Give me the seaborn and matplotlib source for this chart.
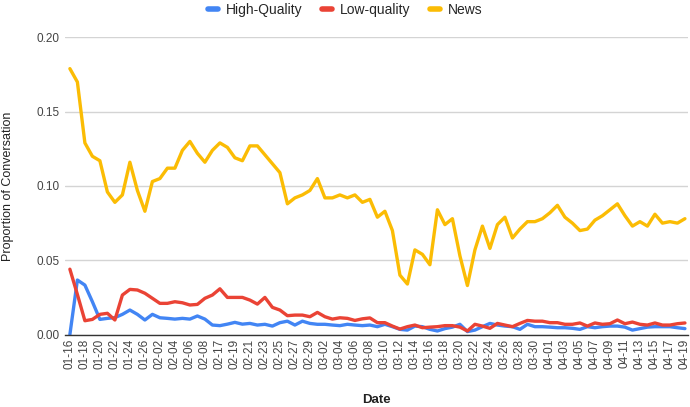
# Proportion of conversation per day: high-quality, low-quality and news sources
import pandas as pd
import matplotlib.pyplot as plt
import seaborn as sns

sns.set_theme(style="white")
plt.rcParams['font.family'] = ['Liberation Sans', 'DejaVu Sans']

# --- data ---
dates = [
    '01-16', '01-17', '01-18', '01-19', '01-20', '01-21', '01-22', '01-23', '01-24', '01-25',
    '01-26', '01-27', '02-02', '02-03', '02-04', '02-05', '02-06', '02-07', '02-08', '02-09',
    '02-17', '02-18', '02-19', '02-20', '02-21', '02-22', '02-23', '02-24', '02-25', '02-26',
    '02-27', '02-28', '02-29', '03-01', '03-02', '03-03', '03-04', '03-05', '03-06', '03-07',
    '03-08', '03-09', '03-10', '03-11', '03-12', '03-13', '03-14', '03-15', '03-16', '03-17',
    '03-18', '03-19', '03-20', '03-21', '03-22', '03-23', '03-24', '03-25', '03-26', '03-27',
    '03-28', '03-29', '03-30', '03-31', '04-01', '04-02', '04-03', '04-04', '04-05', '04-06',
    '04-07', '04-08', '04-09', '04-10', '04-11', '04-12', '04-13', '04-14', '04-15', '04-16',
    '04-17', '04-18', '04-19',
]

high_quality = [
    0.0, 0.0367, 0.0333, 0.0221, 0.0102, 0.0109, 0.0114, 0.0136, 0.0165, 0.0136,
    0.0098, 0.0136, 0.0113, 0.0109, 0.0104, 0.0109, 0.0104, 0.0125, 0.0104, 0.0064,
    0.006, 0.007, 0.0082, 0.007, 0.0075, 0.0064, 0.0069, 0.0057, 0.008, 0.009,
    0.0064, 0.009, 0.0075, 0.0069, 0.0069, 0.0064, 0.006, 0.0069, 0.0064, 0.006,
    0.0064, 0.0053, 0.0069, 0.0053, 0.0035, 0.003, 0.0057, 0.0053, 0.0035, 0.0024,
    0.004, 0.005, 0.0069, 0.002, 0.003, 0.0053, 0.0075, 0.0064, 0.0057, 0.0053,
    0.0035, 0.0069, 0.0053, 0.0053, 0.005, 0.0046, 0.0046, 0.0042, 0.0035, 0.0053,
    0.0046, 0.0053, 0.0057, 0.0057, 0.005, 0.003, 0.004, 0.005, 0.0053, 0.0053,
    0.0053, 0.0046, 0.004,
]

low_quality = [
    0.044, 0.027, 0.0093, 0.0102, 0.0136, 0.0143, 0.0098, 0.0266, 0.0304, 0.030,
    0.0278, 0.0244, 0.021, 0.021, 0.0221, 0.0214, 0.0199, 0.0203, 0.0244, 0.0266,
    0.0308, 0.025, 0.025, 0.025, 0.0232, 0.0205, 0.025, 0.0183, 0.0165, 0.0127,
    0.0131, 0.0131, 0.012, 0.0149, 0.012, 0.0104, 0.0113, 0.0109, 0.0095, 0.0106,
    0.0112, 0.008, 0.008, 0.0057, 0.0037, 0.0053, 0.0064, 0.0046, 0.005, 0.0053,
    0.006, 0.006, 0.005, 0.0024, 0.0069, 0.0057, 0.0042, 0.0075, 0.0064, 0.0053,
    0.0075, 0.0095, 0.009, 0.009, 0.008, 0.008, 0.0069, 0.0069, 0.0078, 0.0057,
    0.0078, 0.0069, 0.0073, 0.0098, 0.0073, 0.0084, 0.0069, 0.0064, 0.0078, 0.0064,
    0.0064, 0.0073, 0.0078,
]

news = [
    0.179, 0.170, 0.129, 0.120, 0.117, 0.096, 0.089, 0.094, 0.116, 0.097,
    0.083, 0.103, 0.105, 0.112, 0.112, 0.124, 0.130, 0.122, 0.116, 0.124,
    0.129, 0.126, 0.119, 0.117, 0.127, 0.127, 0.121, 0.115, 0.109, 0.088,
    0.092, 0.094, 0.097, 0.105, 0.092, 0.092, 0.094, 0.092, 0.094, 0.089,
    0.091, 0.079, 0.083, 0.070, 0.040, 0.034, 0.057, 0.054, 0.047, 0.084,
    0.074, 0.078, 0.053, 0.033, 0.057, 0.073, 0.058, 0.074, 0.079, 0.065,
    0.071, 0.076, 0.076, 0.078, 0.082, 0.087, 0.079, 0.075, 0.070, 0.071,
    0.077, 0.080, 0.084, 0.088, 0.080, 0.073, 0.076, 0.073, 0.081, 0.075,
    0.076, 0.075, 0.078,
]

series_names = ['High-Quality', 'Low-quality', 'News']
colors = ['#4285F4', '#EA4335', '#FBBC04']

# long-form table for seaborn
df = pd.concat([
    pd.DataFrame({'Date': dates, 'Proportion': vals, 'Series': name})
    for name, vals in zip(series_names, [high_quality, low_quality, news])
], ignore_index=True)

# --- plot ---
fig = plt.figure(figsize=(6.9, 4.07), dpi=100)
ax = fig.add_axes([0.094, 0.178, 0.903, 0.730])

sns.lineplot(data=df, x='Date', y='Proportion', hue='Series', hue_order=series_names,
             palette=colors, linewidth=2.4, sort=False, ax=ax)

ax.set_xlim(-0.67, len(dates) - 1 + 0.4)
ax.set_ylim(0, 0.20)
ax.set_yticks([0.0, 0.05, 0.10, 0.15, 0.20])
ax.set_yticklabels([f'{v:.2f}' for v in [0.0, 0.05, 0.10, 0.15, 0.20]])
ax.set_xticks(range(0, len(dates), 2))
ax.set_xticklabels(dates[::2], rotation=90)

ax.grid(axis='y', color='#d4d4d4', linewidth=1)
ax.set_axisbelow(True)
for side in ['top', 'right', 'left']:
    ax.spines[side].set_visible(False)
ax.spines['bottom'].set_color('#333333')
ax.spines['bottom'].set_linewidth(1)
ax.tick_params(axis='both', length=0, labelsize=8.5, labelcolor='#444444')
ax.tick_params(axis='x', pad=3)
ax.tick_params(axis='y', pad=4)

ax.set_xlabel('Date', fontsize=9.5, fontweight='bold', color='#222222')
ax.set_ylabel('Proportion of Conversation', fontsize=9, color='#222222')
ax.xaxis.set_label_coords(0.5, -0.20)
ax.yaxis.set_label_coords(-0.081, 0.5)

sns.move_legend(ax, 'center', bbox_to_anchor=(0.5, 0.975), bbox_transform=fig.transFigure,
                ncol=3, frameon=False, title=None, fontsize=10, handlelength=0.75,
                handletextpad=0.55, columnspacing=1.4)
for line in ax.get_legend().get_lines():
    line.set_linewidth(4)

fig.savefig('out.png', dpi=100)
plt.close(fig)
